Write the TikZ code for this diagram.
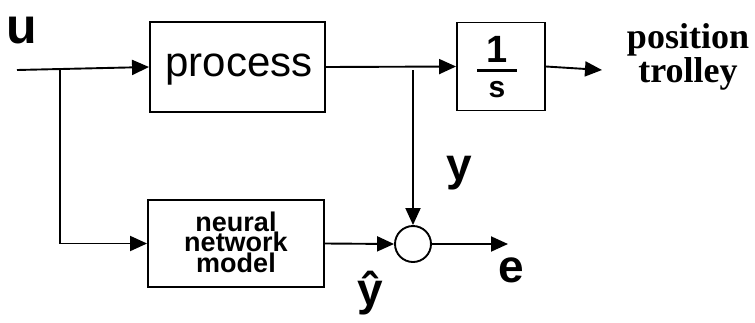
\documentclass[tikz,border=0pt]{standalone}
\usepackage{fontspec}
\setmainfont{Liberation Sans}
\newfontfamily\serifbold{Liberation Serif}[BoldFont={* Bold}]
\usetikzlibrary{arrows.meta}
\begin{document}
\begin{tikzpicture}[x=1pt,y=-1pt,
  line width=1.9pt,
  blk/.style={draw, inner sep=0pt},
  sig/.style={-{Triangle[length=17pt,width=15pt]}},
  lbl/.style={inner sep=0pt, anchor=base, font=\bfseries\fontsize{46}{46}\selectfont}]
\useasboundingbox (0,0) rectangle (755,322);
% blocks
\node[blk, minimum width=175pt, minimum height=90pt] (proc) at (237.5,67) {};
\node[inner sep=0pt, anchor=base, font=\fontsize{42}{42}\selectfont] (proctxt) at (239,76) {process};
\node[blk, minimum width=88pt, minimum height=88pt] (integ) at (501,66.5) {};
\node[inner sep=0pt, anchor=base, font=\bfseries\fontsize{38}{38}\selectfont] (one) at (497,62) {1};
\node[inner sep=0pt, anchor=base, font=\bfseries\fontsize{30}{30}\selectfont] (ess) at (497,97) {s};
\draw[line width=3pt] (477,70) -- (517,70);
\node[blk, minimum width=176pt, minimum height=87pt] (nn) at (236,243.5) {};
\node[inner sep=0pt, align=center, font=\bfseries\fontsize{27}{20.5}\selectfont] (nntxt) at (236,242) {neural\\network\\model};
\node[draw, circle, minimum size=36pt, inner sep=0pt] (sum) at (413,244) {};
% labels
\node[lbl, font=\bfseries\fontsize{50}{50}\selectfont] (u) at (22,43) {u};
\node[lbl] (ylab) at (459,180) {y};
\node[lbl] (yhat) at (370,305) {\^{y}};
\node[lbl] (elab) at (511,282) {e};
\node[inner sep=0pt, align=center, font=\serifbold\bfseries\fontsize{36}{34}\selectfont] (pos) at (688,57) {position\\trolley};
% coordinates
\coordinate (in) at (17,70);
\coordinate (br1) at (60,70);
\coordinate (br2) at (413,70);
\coordinate (out) at (602,70);
\coordinate (eout) at (508,244);
% connectors
\draw[sig] (in) -- (proc.west);
\draw (br1) |- (br1 |- nn.west);
\draw[sig] (br1 |- nn.west) -- (nn.west);
\draw[sig] (proc.east) -- (integ.west);
\draw[sig] (integ.east) -- (out);
\draw[sig] (br2) -- (sum.north);
\draw[sig] (nn.east) -- (sum.west);
\draw[sig] (sum.east) -- (eout);
\end{tikzpicture}
\end{document}
